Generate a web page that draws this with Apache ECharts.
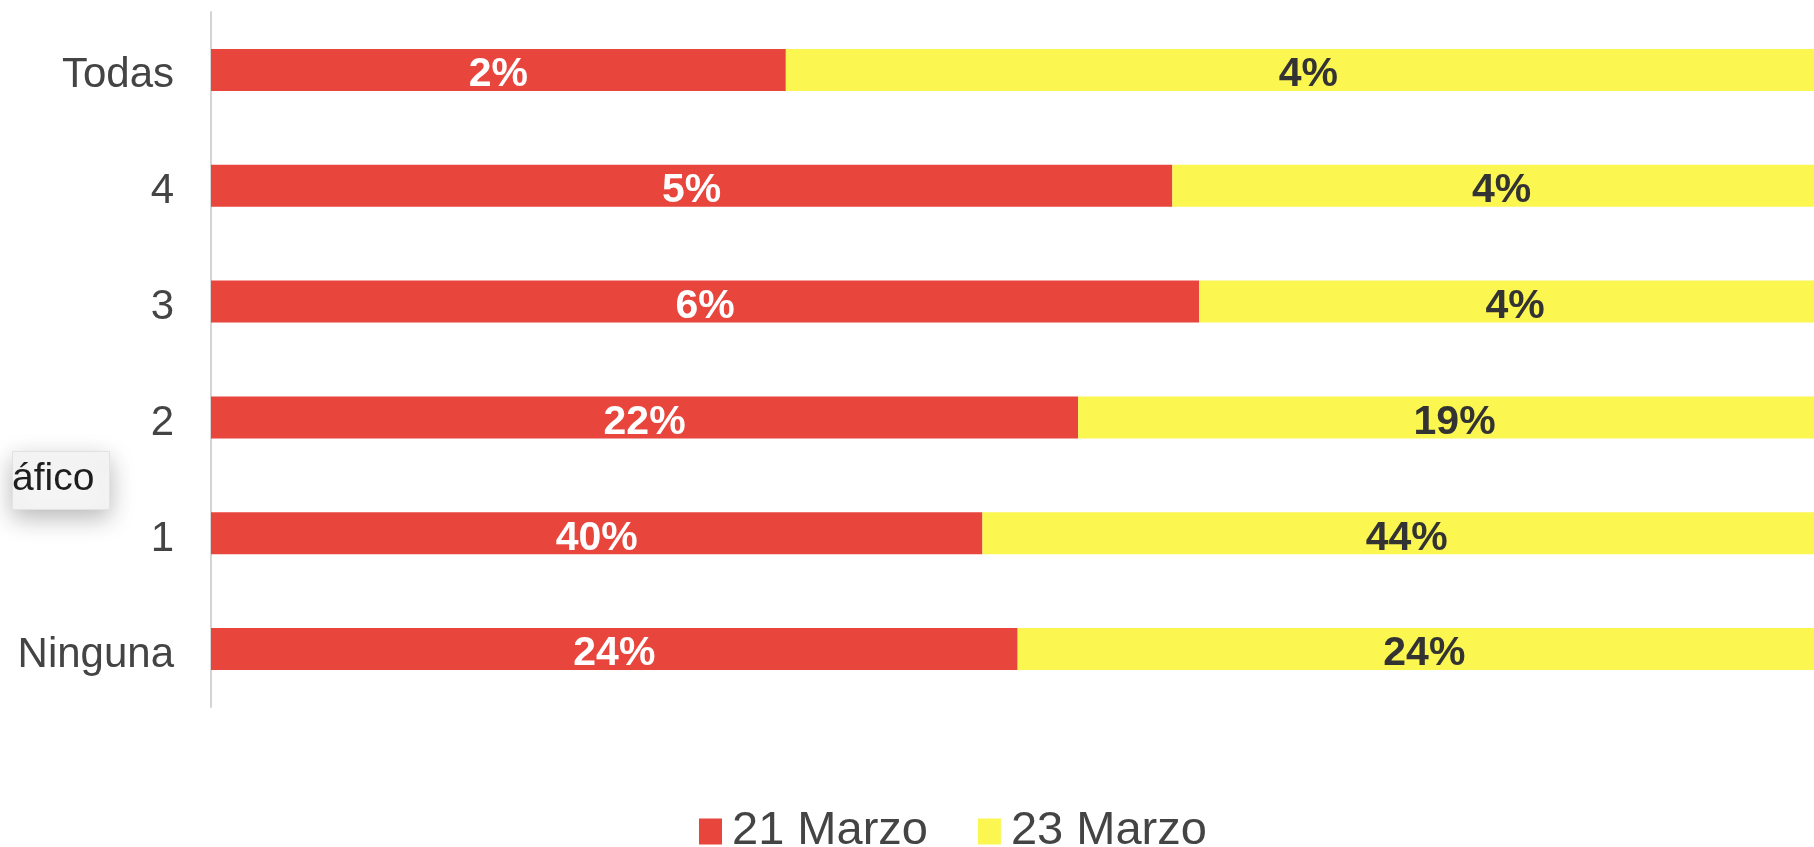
<!DOCTYPE html>
<html>
<head>
<meta charset="utf-8">
<title>21 Marzo / 23 Marzo</title>
<script src="https://cdn.jsdelivr.net/npm/echarts@6/dist/echarts.min.js"></script>
<style>
  html, body { margin: 0; padding: 0; background: #fff; overflow: hidden; }
  /* el grafico original esta recortado por la derecha: el lienzo es mas ancho que la ventana */
  #chart { width: 1860px; height: 847px; }
</style>
</head>
<body>
<div id="chart"></div>
<script>
// categorias de abajo hacia arriba (eje de categorias de ECharts)
const categories = ['Ninguna', '1', '2', '3', '4', 'Todas']
// porcentajes estimados de la imagen (la etiqueta se redondea)
const marzo21 = [24, 40, 22, 6.1, 5.4, 2.2]
const marzo23 = [24.2, 44, 19.1, 3.9, 3.7, 4.0]
const seriesNames = ['21 Marzo', '23 Marzo']

const colors = ['#e8453c', '#fcf651']
const font = "'Liberation Sans', Arial, sans-serif"

// barras apiladas al 100%
const totals = categories.map((c, i) => marzo21[i] + marzo23[i])
const share = (arr) => arr.map((v, i) => ({ value: v / totals[i] * 100, raw: v }))

const chart = echarts.init(document.getElementById('chart'))

const makeSeries = (name, arr, idx, labelColor) => ({
  name,
  type: 'bar',
  stack: 'total',
  barWidth: 42,
  data: share(arr),
  itemStyle: { color: colors[idx] },
  label: {
    show: true,
    position: 'inside',
    offset: [0, 5],
    color: labelColor,
    fontFamily: font,
    fontWeight: 'bold',
    fontSize: 41,
    formatter: (p) => Math.round(p.data.raw) + '%'
  }
})

const option = {
  animation: false,
  backgroundColor: '#ffffff',
  grid: { left: 211, top: 12, width: 1620, height: 695 },
  legend: {
    left: 694,
    top: 803,
    itemWidth: 23,
    itemHeight: 26,
    itemGap: 50,
    icon: 'rect',
    textStyle: { color: '#444', fontSize: 47, fontFamily: font, padding: [0, 0, 0, 5] },
    data: seriesNames
  },
  xAxis: {
    type: 'value',
    min: 0,
    max: 100,
    axisLine: { show: false },
    axisTick: { show: false },
    axisLabel: { show: false },
    splitLine: { show: false }
  },
  yAxis: {
    type: 'category',
    data: categories,
    axisLine: { show: true, lineStyle: { color: '#d4d4d4', width: 2 } },
    axisTick: { show: false },
    axisLabel: {
      color: '#444',
      fontSize: 42,
      fontFamily: font,
      margin: 37,
      formatter: (v) => '{c|' + v + '}',
      rich: {
        c: { color: '#444', fontSize: 42, fontFamily: font, padding: [12, 0, 0, 0] }
      }
    }
  },
  series: [
    makeSeries(seriesNames[0], marzo21, 0, '#ffffff'),
    makeSeries(seriesNames[1], marzo23, 1, '#333333')
  ],
  // recuadro de menu recortado a la izquierda
  graphic: [
    {
      type: 'rect',
      left: 12,
      top: 451,
      shape: { width: 97, height: 58 },
      style: {
        fill: '#f5f5f5',
        stroke: '#e2e2e2',
        lineWidth: 1,
        shadowBlur: 24,
        shadowOffsetY: 8,
        shadowColor: 'rgba(0,0,0,0.28)'
      }
    },
    {
      type: 'text',
      left: 12,
      top: 460,
      style: { text: 'áfico', fill: '#1e1e1e', fontSize: 39, fontFamily: font }
    }
  ]
}

chart.setOption(option)
window.addEventListener('resize', () => chart.resize())
</script>
</body>
</html>
